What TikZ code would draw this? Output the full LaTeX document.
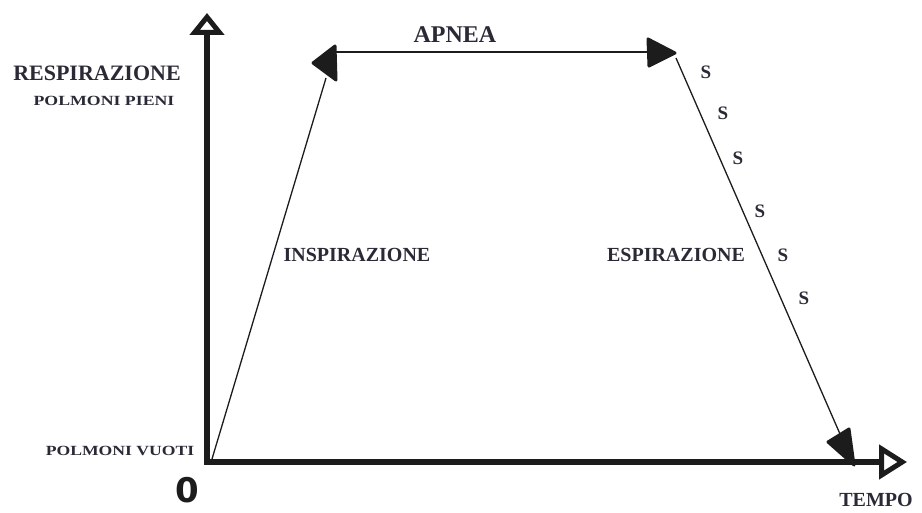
\documentclass[tikz,border=0pt]{standalone}
\usepackage{fontspec}
\usepackage{graphicx}
\setmainfont{Liberation Serif}
\newfontfamily\zerofont{DejaVu Sans}
\usetikzlibrary{arrows.meta}
\definecolor{ink}{HTML}{1C1C1C}
\definecolor{txt}{HTML}{2A2A36}
\tikzset{
  lbl/.style={inner sep=0pt, text=txt, font=\bfseries},
  axis/.style={draw=ink, line width=5.5pt},
  thin/.style={draw=ink, line width=1.3pt},
  headblob/.style={fill=ink, draw=ink, line width=3pt, line join=round},
  ess/.style={inner sep=0pt, text=txt, font=\fontsize{19}{19}\selectfont\bfseries},
}
\begin{document}
\begin{tikzpicture}[x=1pt,y=-1pt]
\useasboundingbox (0,0) rectangle (922,513);
% origin and axes
\coordinate (O) at (207,462);
\coordinate (ytop) at (207,13);
\coordinate (xend) at (907,462);
\draw[axis, -{Triangle[open,length=22pt,width=34pt,line width=5pt]}] ([yshift=2.75pt]O) -- (ytop);
\draw[axis, -{Triangle[open,length=28pt,width=34pt,line width=5pt]}] ([xshift=-2.75pt]O) -- (xend);
% key points
\coordinate (i0) at (212,459);
\coordinate (i1) at (326,78);
\coordinate (a0) at (334,52);
\coordinate (a1) at (650,52);
\coordinate (e0) at (676,58);
\coordinate (e1) at (840,434);
% lines
\draw[thin] (i0) -- (i1);
\draw[thin] (a0) -- (a1);
\draw[thin] (e0) -- (e1);
% arrow heads (hand drawn blobs)
\filldraw[headblob] (313,63) -- (335,46) -- (336,80) -- cycle;
\filldraw[headblob] (675,53) -- (648,39) -- (649,66) -- cycle;
\filldraw[headblob] (828,442) -- (849,429) -- (854,465) -- cycle;
% labels
\node[lbl, font=\fontsize{22}{22}\selectfont\bfseries] (resp) at (97,73) {RESPIRAZIONE};
\node[lbl, font=\fontsize{14}{14}\selectfont\bfseries] (pieni) at (104,101) {\scalebox{1.27}[1]{POLMONI PIENI}};
\node[lbl, font=\fontsize{24}{24}\selectfont\bfseries] (apnea) at (455,35) {APNEA};
\node[lbl, font=\fontsize{20}{20}\selectfont\bfseries] (insp) at (357,255) {INSPIRAZIONE};
\node[lbl, font=\fontsize{20}{20}\selectfont\bfseries] (esp) at (676,255) {ESPIRAZIONE};
\node[lbl, font=\fontsize{14}{14}\selectfont\bfseries] (vuoti) at (120,451) {\scalebox{1.26}[1]{POLMONI VUOTI}};
\node[lbl, text=ink, font=\fontsize{34}{34}\selectfont\zerofont\bfseries] (zero) at (187,490) {0};
\node[lbl, font=\fontsize{20}{20}\selectfont\bfseries] (tempo) at (876,500) {TEMPO};
% S marks
\node[ess] (s1) at (706,72) {S};
\node[ess] (s2) at (723,113) {S};
\node[ess] (s3) at (738,158) {S};
\node[ess] (s4) at (760,211) {S};
\node[ess] (s5) at (783,255) {S};
\node[ess] (s6) at (804,298) {S};
\end{tikzpicture}
\end{document}
